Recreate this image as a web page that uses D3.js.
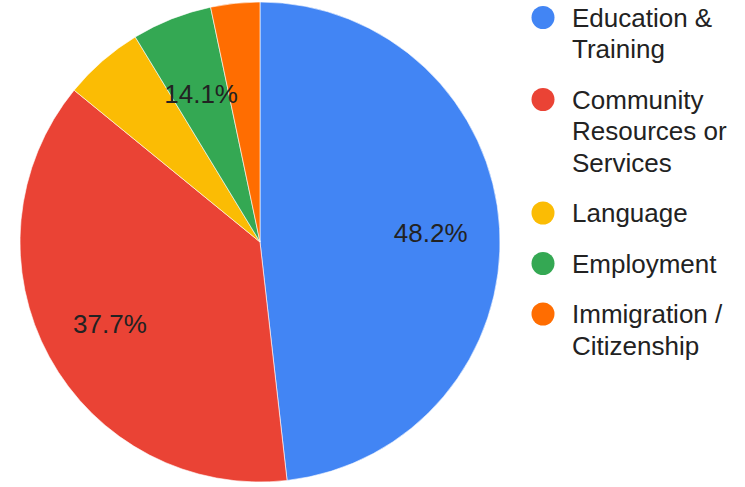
<!DOCTYPE html>
<html>
<head>
<meta charset="utf-8">
<script src="https://cdn.jsdelivr.net/npm/d3@7"></script>
<style>
  body { margin: 0; background: #fff; }
  svg { display: block; font-family: Arial, "Liberation Sans", sans-serif; }
  .legend text { font-size: 26px; fill: #222; }
  .slice-label { font-size: 26px; fill: #222; }
</style>
</head>
<body>
<svg></svg>
<script>
// slice data, clockwise from 12 o'clock
var categories = ["Education & Training", "Community Resources or Services", "Language", "Employment", "Immigration / Citizenship"];
var shares = [48.2, 37.7, 5.4, 5.4, 3.3];
var sliceLabels = ["48.2%", "37.7%", "", "14.1%", ""];   // text as shown on the slices
var legendLines = [["Education &", "Training"], ["Community", "Resources or", "Services"], ["Language"], ["Employment"], ["Immigration /", "Citizenship"]];
var colors = ["#4285f4", "#ea4335", "#fbbc04", "#34a853", "#ff6d01"];

var svgWidth = 745,
    svgHeight = 487;

var center = { x: 260, y: 242 },
    radius = 240;

var svg = d3.select("svg").attr("width", svgWidth).attr("height", svgHeight);

var data = categories.map(function(c, i) {
  return { name: c, value: shares[i], label: sliceLabels[i], color: colors[i] };
});

var pie = d3.pie().sort(null).value(function(d) { return d.value; });
var arc = d3.arc().innerRadius(0).outerRadius(radius);

// narrow slices get their label pulled a bit toward the center
function labelRadius(d) {
  return (d.endAngle - d.startAngle) < 0.5 ? 160 : 171;
}

/* ~~~~~~~~~ pie ~~~~~~~~~ */
var chartgroup = svg.append("g").attr("transform", "translate(" + center.x + "," + center.y + ")");

var arcs = pie(data);

chartgroup.selectAll("path")
  .data(arcs)
  .enter()
  .append("path")
  .attr("d", arc)
  .attr("fill", function(d) { return d.data.color; })
  .attr("stroke", "#fff")
  .attr("stroke-width", 0.6);

chartgroup.selectAll("text")
  .data(arcs.filter(function(d) { return d.data.label; }))
  .enter()
  .append("text")
  .attr("class", "slice-label")
  .attr("transform", function(d) {
    var r = labelRadius(d);
    return "translate(" + d3.arc().innerRadius(r).outerRadius(r).centroid(d) + ")";
  })
  .attr("text-anchor", "middle")
  .attr("dy", "0.36em")
  .text(function(d) { return d.data.label; });

/* ~~~~~~~~~ legend ~~~~~~~~~ */
var lineHeight = 31.5,
    itemGap = 19,
    legendTop = 17.5;

var legend = svg.append("g").attr("class", "legend");

var y = legendTop;
data.forEach(function(d, i) {
  var item = legend.append("g").attr("transform", "translate(0," + y + ")");
  item.append("circle")
    .attr("cx", 543)
    .attr("cy", 0)
    .attr("r", 11.5)
    .attr("fill", d.color);
  legendLines[i].forEach(function(line, j) {
    item.append("text")
      .attr("x", 572)
      .attr("y", j * lineHeight)
      .attr("dy", "0.36em")
      .text(line);
  });
  y += legendLines[i].length * lineHeight + itemGap;
});
</script>
</body>
</html>
